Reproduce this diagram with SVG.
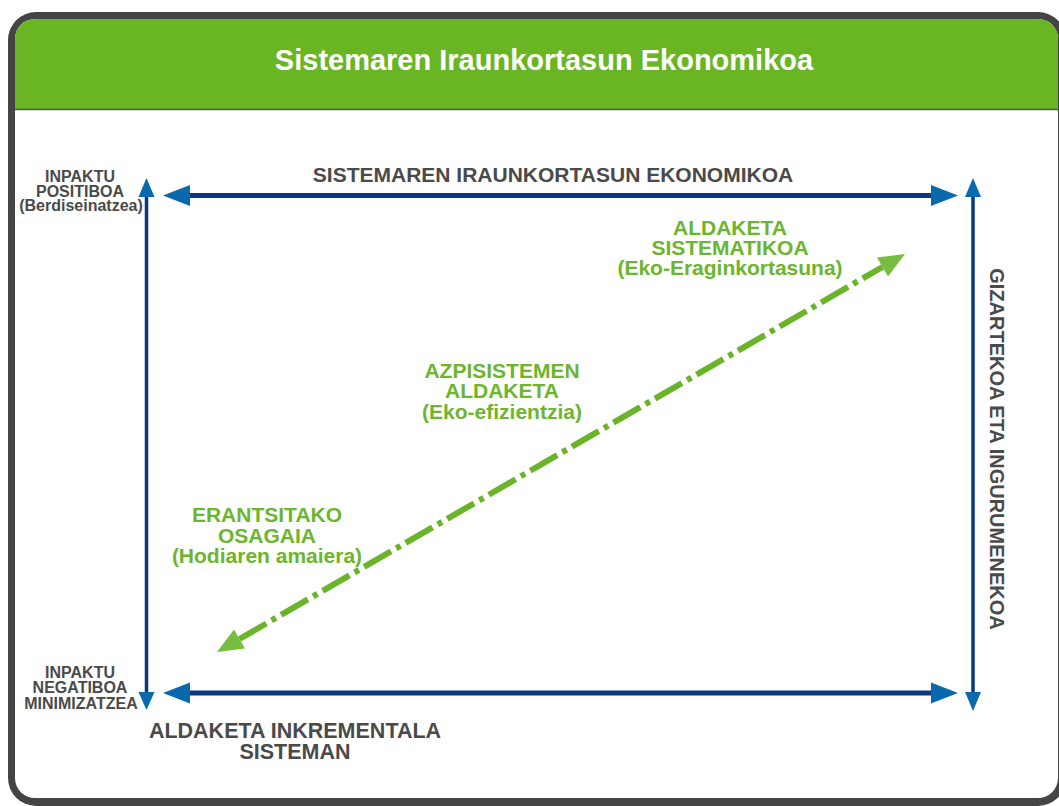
<svg xmlns="http://www.w3.org/2000/svg" width="1059" height="806" viewBox="0 0 1059 806">
<style>
text{font-family:"Liberation Sans",Arial,sans-serif;font-weight:bold;text-anchor:middle}
.gray{fill:#4a4a4a}
.small{font-size:16px}
.big{font-size:21px}
.green{fill:#6cb52d;font-size:21px}
.title{fill:#ffffff;font-size:29px}
.bl{stroke:#0a3782;fill:none}
.bh{fill:#0a68ad}
.gh{fill:#76bd40}
</style>
<g id="frame">
<rect x="8" y="12" width="1058" height="794" rx="28" fill="#444444"/>
<rect x="15" y="19" width="1043" height="779" rx="20" fill="#ffffff"/>
<path d="M15,109 V39 A20,20 0 0 1 35,19 H1038 A20,20 0 0 1 1058,39 V109 Z" fill="#6ab523"/>
<line x1="15" y1="109.5" x2="1058" y2="109.5" stroke="#555555" stroke-width="1.5"/>
<text class="title" x="544" y="70">Sistemaren Iraunkortasun Ekonomikoa</text>
</g>
<g id="connectors">
<line class="bl" x1="188" y1="195.5" x2="934" y2="195.5" stroke-width="5"/>
<polygon class="bh" points="163,195.5 190,185 190,206"/>
<polygon class="bh" points="958,195.5 931,185 931,206"/>
<line class="bl" x1="188" y1="693" x2="934" y2="693" stroke-width="5"/>
<polygon class="bh" points="163,693 190,682.5 190,703.5"/>
<polygon class="bh" points="958,693 931,682.5 931,703.5"/>
<line class="bl" x1="146.5" y1="195" x2="146.5" y2="694" stroke-width="3.5"/>
<polygon class="bh" points="146.5,178 138.5,197 154.5,197"/>
<polygon class="bh" points="146.5,710 138.5,692 154.5,692"/>
<line class="bl" x1="973" y1="195" x2="973" y2="694" stroke-width="3.5"/>
<polygon class="bh" points="973,178 965,197 981,197"/>
<polygon class="bh" points="973,711 965,692 981,692"/>
<line x1="239.5" y1="639" x2="882.5" y2="267" stroke="#6ab42a" stroke-width="6" stroke-dasharray="31 6 5 6"/>
<polygon class="gh" points="905,254 877,257.5 888,276.5"/>
<polygon class="gh" points="217,652 234,629.5 245,648.5"/>
</g>
<g id="label-top">
<text class="gray big" x="553" y="181.5">SISTEMAREN IRAUNKORTASUN EKONOMIKOA</text>
</g>
<g id="label-positive">
<text class="gray small" x="80" y="182">INPAKTU</text>
<text class="gray small" x="80" y="197">POSITIBOA</text>
<text class="gray small" x="81" y="211">(Berdiseinatzea)</text>
</g>
<g id="label-negative">
<text class="gray small" x="80" y="678">INPAKTU</text>
<text class="gray small" x="80" y="693">NEGATIBOA</text>
<text class="gray small" x="81" y="709">MINIMIZATZEA</text>
</g>
<g id="label-bottom">
<text class="gray" style="font-size:21.5px" x="295" y="738">ALDAKETA INKREMENTALA</text>
<text class="gray" style="font-size:21.5px" x="295" y="759">SISTEMAN</text>
</g>
<g id="label-right">
<text class="gray" style="font-size:20px" transform="translate(990,449) rotate(90)">GIZARTEKOA ETA INGURUMENEKOA</text>
</g>
<g id="node-sistematikoa">
<text class="green" x="730" y="235">ALDAKETA</text>
<text class="green" x="730" y="255">SISTEMATIKOA</text>
<text class="green" x="730" y="275">(Eko-Eraginkortasuna)</text>
</g>
<g id="node-azpisistemen">
<text class="green" x="502" y="378">AZPISISTEMEN</text>
<text class="green" x="502" y="398">ALDAKETA</text>
<text class="green" x="502" y="419">(Eko-efizientzia)</text>
</g>
<g id="node-erantsitako">
<text class="green" x="267" y="522">ERANTSITAKO</text>
<text class="green" x="267" y="543">OSAGAIA</text>
<text class="green" x="267" y="563">(Hodiaren amaiera)</text>
</g>
</svg>
